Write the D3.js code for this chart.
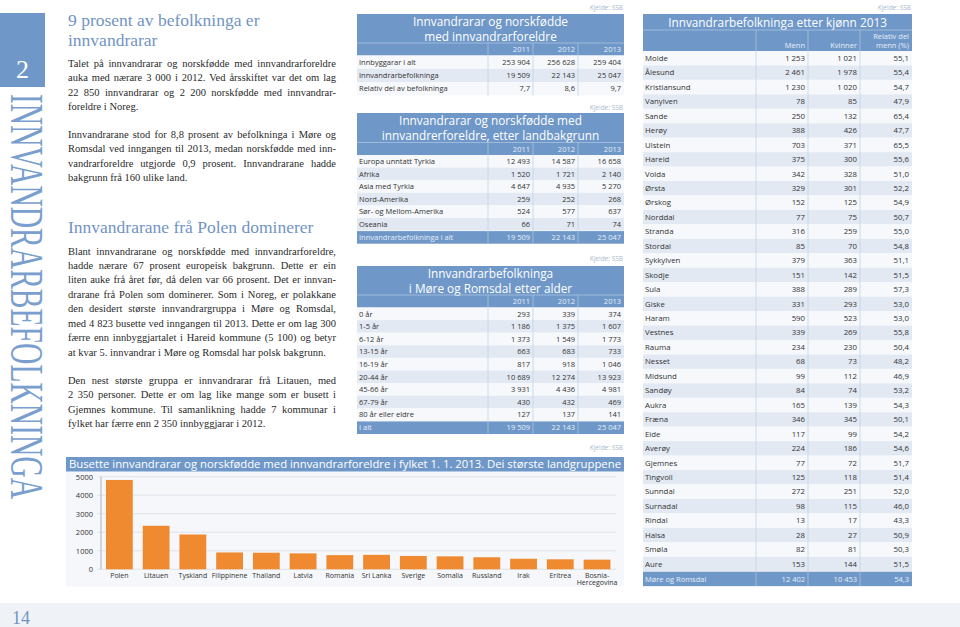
<!DOCTYPE html>
<html><head><meta charset="utf-8">
<script src="https://cdn.jsdelivr.net/npm/d3@7"></script>
<style>
body{margin:0;background:#fff}
svg{display:block}
.body{font-family:"Liberation Serif",serif;font-size:10.5px;fill:#2a2a2a}
.hd{font-family:"Liberation Serif",serif;font-size:17.5px;fill:#7194c4}
.tt{font-family:"Open Sans",sans-serif;font-size:11.8px;fill:#fff}
.td{font-family:"Open Sans",sans-serif;font-size:7.5px;fill:#333}
.th{font-family:"Open Sans",sans-serif;font-size:7.5px;fill:#e8eef8}
.kj{font-family:"Open Sans",sans-serif;font-size:6.5px;fill:#a9b9cd}
.ax{font-family:"Open Sans",sans-serif;font-size:7px;fill:#333}
.ay{font-family:"Open Sans",sans-serif;font-size:7.5px;fill:#333}
</style>
</head><body>
<svg id="c" width="960" height="627"></svg>
<script>
// ---------- DATA ----------
const countries = ["Polen","Litauen","Tyskland","Filippinene","Thailand","Latvia","Romania","Sri Lanka","Sverige","Somalia","Russland","Irak","Eritrea","Bosnia-Hercegovina"];
const residents = [4823,2350,1880,910,895,860,765,780,720,700,650,570,540,520];
const yTicks = [0,1000,2000,3000,4000,5000];

const years = ["2011","2012","2013"];
const popLabels = ["Innbyggarar i alt","Innvandrarbefolkninga","Relativ del av befolkninga"];
const popInnbyggarar = [253904,256628,259404];
const popInnvandrar = [19509,22143,25047];
const popRelativ = [7.7,8.6,9.7];

const regions = ["Europa unntatt Tyrkia","Afrika","Asia med Tyrkia","Nord-Amerika","Sør- og Mellom-Amerika","Oseania"];
const reg2011 = [12493,1520,4647,259,524,66];
const reg2012 = [14587,1721,4935,252,577,71];
const reg2013 = [16658,2140,5270,268,637,74];
const totals = [19509,22143,25047];

const ages = ["0 år","1-5 år","6-12 år","13-15 år","16-19 år","20-44 år","45-66 år","67-79 år","80 år eller eldre"];
const age2011 = [293,1186,1373,663,817,10689,3931,430,127];
const age2012 = [339,1375,1549,683,918,12274,4436,432,137];
const age2013 = [374,1607,1773,733,1046,13923,4981,469,141];

const kommunar = ["Molde","Ålesund","Kristiansund","Vanylven","Sande","Herøy","Ulstein","Hareid","Volda","Ørsta","Ørskog","Norddal","Stranda","Stordal","Sykkylven","Skodje","Sula","Giske","Haram","Vestnes","Rauma","Nesset","Midsund","Sandøy","Aukra","Fræna","Eide","Averøy","Gjemnes","Tingvoll","Sunndal","Surnadal","Rindal","Halsa","Smøla","Aure"];
const menn = [1253,2461,1230,78,250,388,703,375,342,329,152,77,316,85,379,151,388,331,590,339,234,68,99,84,165,346,117,224,77,125,272,98,13,28,82,153];
const kvinner = [1021,1978,1020,85,132,426,371,300,328,301,125,75,259,70,363,142,289,293,523,269,230,73,112,74,139,345,99,186,72,118,251,115,17,27,81,144];
const delMenn = [55.1,55.4,54.7,47.9,65.4,47.7,65.5,55.6,51.0,52.2,54.9,50.7,55.0,54.8,51.1,51.5,57.3,53.0,53.0,55.8,50.4,48.2,46.9,53.2,54.3,50.1,54.2,54.6,51.7,51.4,52.0,46.0,43.3,50.9,50.3,51.5];
const fylkeTotal = [12402,10453,54.3];

// ---------- SETUP ----------
const svg = d3.select("#c");
const BLUE = "#6f98c9", ODD = "#e2e9f3", EVEN = "#f6f8fb", LINE = "#c3d3e6";
const loc = d3.formatLocale({decimal:",",thousands:"\u2009",grouping:[3],currency:["",""]});
const fInt = v => loc.format(",")(v).replace(/\u2009/g," ");
const fDec = loc.format(".1f");

// footer band
svg.append("rect").attr("x",0).attr("y",603).attr("width",960).attr("height",24).attr("fill","#eff3f8");
svg.append("text").attr("x",12).attr("y",624).attr("font-family","Liberation Serif").attr("font-size",18).attr("fill","#7194c4").text("14");

// left sidebar
svg.append("rect").attr("x",0).attr("y",13).attr("width",45).attr("height",74).attr("fill",BLUE);
svg.append("text").attr("x",22.5).attr("y",78).attr("text-anchor","middle").attr("font-family","Liberation Serif").attr("font-size",26).attr("fill","#fff").text("2");
svg.append("text").attr("transform","translate(11,94) rotate(90)")
  .attr("font-family","Liberation Serif").attr("font-size",46).attr("fill","#7a9fce")
  .attr("textLength",405).attr("lengthAdjust","spacingAndGlyphs").text("INNVANDRARBEFOLKNINGA");

// ---------- TEXT COLUMN ----------
const TX = 68, TW = 268;
function heading(lines, y0, lh){
  lines.forEach((t,i)=>svg.append("text").attr("class","hd").attr("x",TX).attr("y",y0+i*lh).text(t));
}
function para(lines, y0, lh){
  lines.forEach((t,i)=>{
    const el = svg.append("text").attr("class","body").attr("x",TX).attr("y",y0+i*lh).text(t);
    if(i<lines.length-1){
      const len = el.node().getComputedTextLength();
      const sp = (t.match(/ /g)||[]).length;
      if(sp>0) el.attr("word-spacing",((TW-len)/sp).toFixed(2));
    }
  });
}
heading(["9 prosent av befolkninga er","innvandrarar"],26,20);
para(["Talet på innvandrarar og norskfødde med innvandrarforeldre",
      "auka med nærare 3 000 i 2012. Ved årsskiftet var det om lag",
      "22 850 innvandrarar og 2 200 norskfødde med innvandrar-",
      "foreldre i Noreg."],66.5,14.6);
para(["Innvandrarane stod for 8,8 prosent av befolkninga i Møre og",
      "Romsdal ved inngangen til 2013, medan norskfødde med inn-",
      "vandrarforeldre utgjorde 0,9 prosent. Innvandrarane hadde",
      "bakgrunn frå 160 ulike land."],137.5,14.6);
heading(["Innvandrarane frå Polen dominerer"],233,20);
para(["Blant innvandrarane og norskfødde med innvandrarforeldre,",
      "hadde nærare 67 prosent europeisk bakgrunn. Dette er ein",
      "liten auke frå året før, då delen var 66 prosent. Det er innvan-",
      "drarane frå Polen som dominerer. Som i Noreg, er polakkane",
      "den desidert største innvandrargruppa i Møre og Romsdal,",
      "med 4 823 busette ved inngangen til 2013. Dette er om lag 300",
      "færre enn innbyggjartalet i Hareid kommune (5 100) og betyr",
      "at kvar 5. innvandrar i Møre og Romsdal har polsk bakgrunn."],254.5,14.45);
para(["Den nest største gruppa er innvandrarar frå Litauen, med",
      "2 350 personer. Dette er om lag like mange som er busett i",
      "Gjemnes kommune. Til samanlikning hadde 7 kommunar i",
      "fylket har færre enn 2 350 innbyggjarar i 2012."],383.5,14.5);

// ---------- TABLES ----------
function table(o){
  const g = svg.append("g");
  const x0 = o.x, x1 = o.x + o.w;
  g.append("text").attr("class","kj").attr("x",x1-1).attr("y",o.kY).attr("text-anchor","end").text("Kjelde: SSB");
  g.append("rect").attr("x",x0).attr("y",o.tY).attr("width",o.w).attr("height",o.hY+o.hH-o.tY).attr("fill",BLUE);
  o.title.forEach((t,i)=>g.append("text").attr("class","tt").attr("x",(x0+x1)/2).attr("y",o.tBase[i]).attr("text-anchor","middle").text(t));
  g.append("line").attr("x1",x0).attr("x2",x1).attr("y1",o.hY).attr("y2",o.hY).attr("stroke","#a9c2e0").attr("stroke-width",0.8);
  const bounds = [x0].concat(o.cols).concat([x1]);
  o.cols.forEach(c=>g.append("line").attr("x1",c).attr("x2",c).attr("y1",o.hY).attr("y2",o.hY+o.hH).attr("stroke","#a9c2e0").attr("stroke-width",0.8));
  o.headers.forEach((h,j)=>{
    const lines = Array.isArray(h)?h:[h];
    lines.forEach((t,k)=>g.append("text").attr("class","th").attr("x",bounds[j+2]-3)
      .attr("y",o.hY+o.hH-3.5-(lines.length-1-k)*9).attr("text-anchor","end").text(t));
  });
  const y0 = o.hY + o.hH;
  o.rows.forEach((r,i)=>{
    const yy = y0 + i*o.rH;
    g.append("rect").attr("x",x0).attr("y",yy).attr("width",o.w).attr("height",o.rH).attr("fill",i%2?ODD:EVEN);
    g.append("text").attr("class","td").attr("x",x0+2).attr("y",yy+o.rH/2+2.7).text(r[0]);
    r.slice(1).forEach((v,j)=>g.append("text").attr("class","td").attr("x",bounds[j+2]-3).attr("y",yy+o.rH/2+2.7).attr("text-anchor","end").text(v));
  });
  const yEnd = y0 + o.rows.length*o.rH;
  o.cols.forEach(c=>g.append("line").attr("x1",c).attr("x2",c).attr("y1",y0).attr("y2",yEnd).attr("stroke",LINE).attr("stroke-width",0.8));
  if(o.total){
    g.append("rect").attr("x",x0).attr("y",yEnd+0.5).attr("width",o.w).attr("height",o.rH).attr("fill",BLUE);
    g.append("text").attr("class","th").attr("x",x0+2).attr("y",yEnd+0.5+o.rH/2+2.7).text(o.total[0]);
    o.total.slice(1).forEach((v,j)=>g.append("text").attr("class","th").attr("x",bounds[j+2]-3).attr("y",yEnd+0.5+o.rH/2+2.7).attr("text-anchor","end").text(v));
    o.cols.forEach(c=>g.append("line").attr("x1",c).attr("x2",c).attr("y1",yEnd+0.5).attr("y2",yEnd+0.5+o.rH).attr("stroke","#a9c2e0").attr("stroke-width",0.8));
  }
  return g;
}

table({x:357,w:267,kY:9.5,tY:14,tBase:[26,40.5],hY:43,hH:12.5,cols:[488,533,578],
  title:["Innvandrarar og norskfødde","med innvandrarforeldre"],headers:years,rH:13.3,
  rows:[[popLabels[0]].concat(popInnbyggarar.map(fInt)),
        [popLabels[1]].concat(popInnvandrar.map(fInt)),
        [popLabels[2]].concat(popRelativ.map(fDec))]});

table({x:357,w:267,kY:109.5,tY:113,tBase:[125,140],hY:142.5,hH:12.5,cols:[488,533,578],
  title:["Innvandrarar og norskfødde med","innvandrerforeldre, etter landbakgrunn"],headers:years,rH:12.6,
  rows:regions.map((r,i)=>[r,fInt(reg2011[i]),fInt(reg2012[i]),fInt(reg2013[i])]),
  total:["Innvandrarbefolkninga i alt"].concat(totals.map(fInt))});

table({x:357,w:267,kY:260.5,tY:266,tBase:[277.5,292.5],hY:295,hH:12.5,cols:[488,533,578],
  title:["Innvandrarbefolkninga","i Møre og Romsdal etter alder"],headers:years,rH:12.6,
  rows:ages.map((r,i)=>[r,fInt(age2011[i]),fInt(age2012[i]),fInt(age2013[i])]),
  total:["I alt"].concat(totals.map(fInt))});

const gt = table({x:643,w:269,kY:9.5,tY:14,tBase:[26.5],hY:30,hH:21,cols:[756,808,860],
  title:["Innvandrarbefolkninga etter kjønn 2013"],headers:["Menn","Kvinner",["Relativ del","menn (%)"]],rH:14.45,
  rows:kommunar.map((k,i)=>[k,fInt(menn[i]),fInt(kvinner[i]),fDec(delMenn[i])]),
  total:["Møre og Romsdal",fInt(fylkeTotal[0]),fInt(fylkeTotal[1]),fDec(fylkeTotal[2])]});
gt.selectAll("text.td").style("font-size","7.8px");

// ---------- BAR CHART ----------
const cg = svg.append("g");
cg.append("text").attr("class","kj").attr("x",623).attr("y",449.5).attr("text-anchor","end").text("Kjelde: SSB");
cg.append("rect").attr("x",66).attr("y",471.5).attr("width",558).attr("height",115).attr("fill","#f5f7fa");
cg.append("rect").attr("x",66).attr("y",457).attr("width",558).attr("height",14.5).attr("fill",BLUE);
cg.append("text").attr("class","tt").attr("x",69).attr("y",468.3).style("font-size","11px")
  .attr("textLength",552).attr("lengthAdjust","spacingAndGlyphs")
  .text("Busette innvandrarar og norskfødde med innvandrarforeldre i fylket 1. 1. 2013. Dei største landgruppene");

const x = d3.scaleBand().domain(countries).range([101,615.4]).paddingInner(0.27).paddingOuter(0.135);
const y = d3.scaleLinear().domain([0,5000]).range([569.3,476.7]);

cg.append("g").selectAll("line").data(yTicks).join("line")
  .attr("x1",97).attr("x2",616).attr("y1",d=>y(d)).attr("y2",d=>y(d))
  .attr("stroke","#d9e0e8").attr("stroke-width",0.8);
cg.append("line").attr("x1",101).attr("x2",101).attr("y1",y(5000)).attr("y2",y(0)).attr("stroke","#9aa3ad").attr("stroke-width",0.8);

const ya = cg.append("g").attr("transform","translate(101,0)")
  .call(d3.axisLeft(y).tickValues(yTicks).tickSize(0).tickPadding(8).tickFormat(d3.format("d")));
ya.select(".domain").remove();
ya.selectAll("text").attr("class","ay").attr("font-family",null).attr("font-size",null);

cg.append("g").selectAll("rect").data(countries).join("rect")
  .attr("x",d=>x(d)).attr("width",x.bandwidth())
  .attr("y",(d,i)=>y(residents[i])).attr("height",(d,i)=>y(0)-y(residents[i]))
  .attr("fill","#f08a30");

const xa = cg.append("g").attr("transform",`translate(0,${y(0)})`)
  .call(d3.axisBottom(x).tickSize(0).tickPadding(8));
xa.select(".domain").remove();
xa.selectAll("text").attr("class","ax").attr("font-family",null).attr("font-size",null).attr("dy","0.1em")
  .each(function(d){
    if(d.includes("-")){
      const t = d3.select(this); const parts = d.split("-");
      t.text(null);
      t.append("tspan").attr("x",0).attr("dy","0.1em").text(parts[0]+"-");
      t.append("tspan").attr("x",0).attr("dy","1.0em").text(parts[1]);
    }
  });
</script>
</body></html>
